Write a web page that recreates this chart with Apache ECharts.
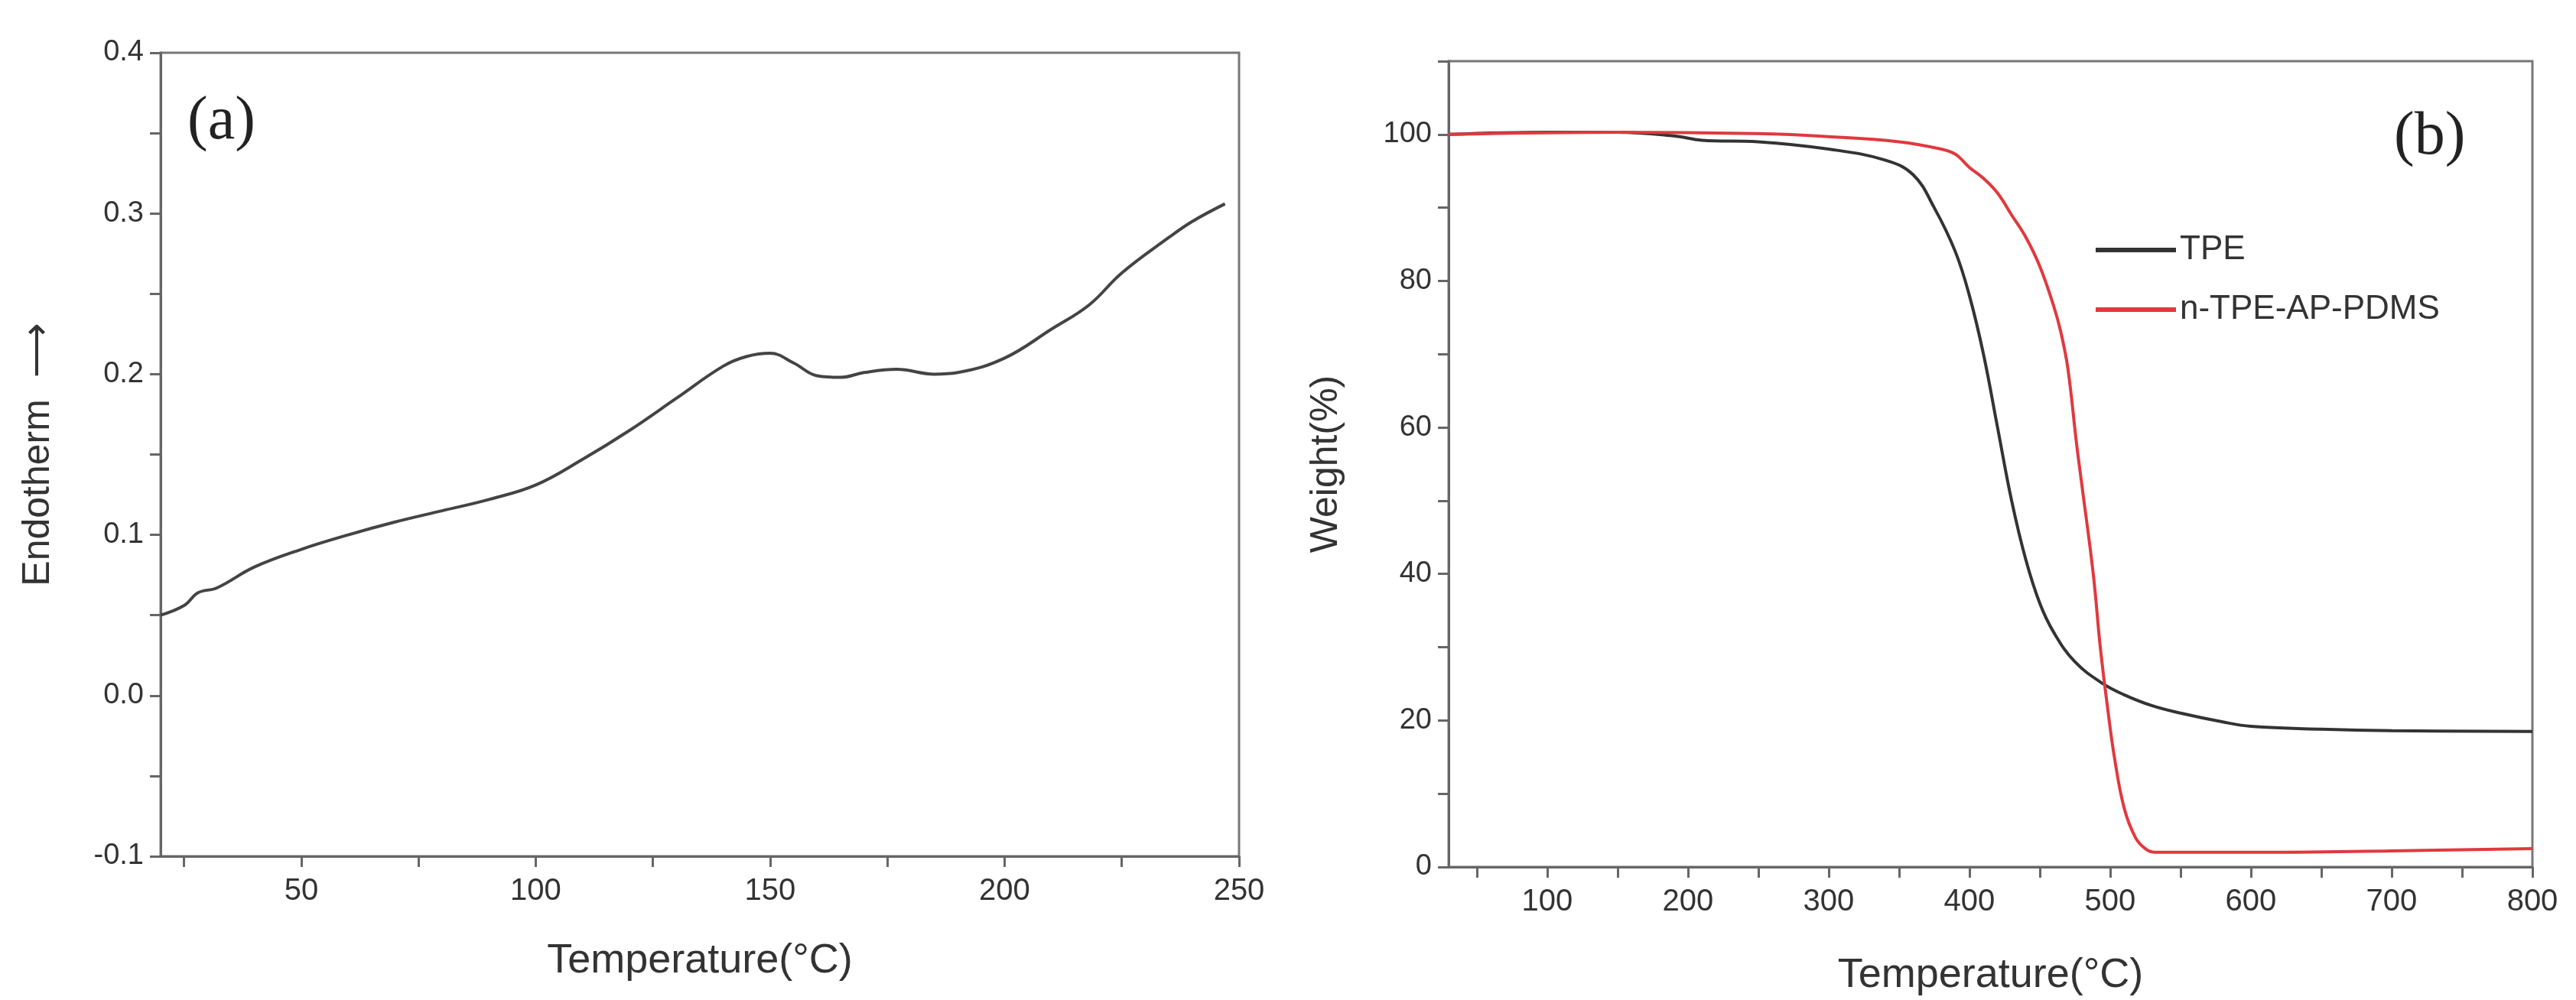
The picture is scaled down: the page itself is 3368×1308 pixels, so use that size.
<!doctype html>
<html>
<head>
<meta charset="utf-8">
<title>DSC / TGA</title>
<script src="https://cdn.jsdelivr.net/npm/echarts@6/dist/echarts.min.js"></script>
<style>html,body{margin:0;background:#fff}#Chart{width:3368px;height:1308px}</style>
</head>
<body>
<div id="Chart"></div>
<script>
    // (a) DSC curve
    var dscTemp = [20, 25, 28, 32, 40, 50, 60, 70, 80, 90, 100, 110, 120, 130, 140, 145, 150, 155, 160, 165, 170, 177, 185, 190, 200, 210, 218, 225, 235, 240, 247];
    var dscVal = [0.050, 0.056, 0.064, 0.067, 0.080, 0.091, 0.100, 0.108, 0.115, 0.122, 0.131, 0.147, 0.165, 0.185, 0.205, 0.211, 0.213, 0.207, 0.199, 0.198, 0.201, 0.203, 0.200, 0.201, 0.210, 0.228, 0.243, 0.263, 0.285, 0.295, 0.306];
    // (b) TGA curves
    var tpeTemp = [30, 100, 150, 190, 210, 250, 300, 340, 360, 375, 390, 400, 410, 420, 430, 440, 450, 460, 475, 495, 510, 530, 550, 580, 600, 650, 700, 800];
    var tpeVal = [100, 100.3, 100.3, 99.8, 99.2, 99, 98, 96.5, 94.5, 90, 84, 78, 70, 60, 50, 42, 36, 32, 28, 25, 23.5, 22, 21, 19.8, 19.2, 18.8, 18.6, 18.5];
    var pdmsTemp = [30, 150, 250, 300, 350, 380, 390, 400, 410, 420, 430, 440, 450, 460, 465, 470, 476, 480, 488, 493, 498, 503, 510, 518, 525, 532, 560, 600, 700, 800];
    var pdmsVal = [100, 100.3, 100.1, 99.7, 99, 98, 97.3, 95.5, 94, 92, 89, 86, 82, 76.5, 73, 68, 58, 52, 40, 30, 22, 15, 8, 4, 2.5, 2, 2, 2, 2.2, 2.5];
    var dscXLabels = [50, 100, 150, 200, 250];
    var dscXTicks = [25, 50, 75, 100, 125, 150, 175, 200, 225, 250];
    var tgaXLabels = [100, 200, 300, 400, 500, 600, 700, 800];
    var tgaXTicks = [50, 100, 150, 200, 250, 300, 350, 400, 450, 500, 550, 600, 650, 700, 750, 800];

    function pairs(xs, ys) {
        var out = [];
        for (var i = 0; i < xs.length; i++) out.push([xs[i], ys[i]]);
        return out;
    }

    var txt = '#333';
    var axisLine = { show: true, onZero: false, lineStyle: { color: '#666', width: 3 } };
    var font = 'Liberation Sans, Arial, sans-serif';

    var myChart = echarts.init(document.getElementById('Chart'));
    var option = {
        animation: false,
        textStyle: { fontFamily: font },
        grid: [
            { left: 210, top: 69, width: 1410, height: 1051, show: true, borderColor: '#777', borderWidth: 3 },
            { left: 1894, top: 80, width: 1417, height: 1056, show: true, borderColor: '#777', borderWidth: 3 }
        ],
        xAxis: [
            {
                gridIndex: 0, type: 'value', min: 20, max: 250,
                name: 'Temperature(°C)', nameLocation: 'middle', nameGap: 110,
                nameTextStyle: { color: txt, fontSize: 54 },
                axisLine: axisLine, splitLine: { show: false },
                axisTick: { show: true, length: 14, lineStyle: { color: '#666', width: 3 }, customValues: dscXTicks },
                axisLabel: { color: txt, fontSize: 40, margin: 26, customValues: dscXLabels }
            },
            {
                gridIndex: 1, type: 'value', min: 30, max: 800,
                name: 'Temperature(°C)', nameLocation: 'middle', nameGap: 115,
                nameTextStyle: { color: txt, fontSize: 54 },
                axisLine: axisLine, splitLine: { show: false },
                axisTick: { show: true, length: 14, lineStyle: { color: '#666', width: 3 }, customValues: tgaXTicks },
                axisLabel: { color: txt, fontSize: 40, margin: 26, customValues: tgaXLabels }
            }
        ],
        yAxis: [
            {
                gridIndex: 0, type: 'value', min: -0.1, max: 0.4, interval: 0.05,
                name: 'Endotherm  ⟶', nameLocation: 'middle', nameGap: 135, nameRotate: 90,
                nameTextStyle: { color: txt, fontSize: 50 },
                axisLine: axisLine, splitLine: { show: false },
                axisTick: { show: true, length: 14, lineStyle: { color: '#666', width: 3 } },
                axisLabel: {
                    color: txt, fontSize: 38, margin: 22,
                    formatter: function (v) {
                        var r = Math.round(v * 100);
                        return r % 10 === 0 ? (r / 100).toFixed(1) : '';
                    }
                }
            },
            {
                gridIndex: 1, type: 'value', min: 0, max: 110, interval: 10,
                name: 'Weight(%)', nameLocation: 'middle', nameGap: 135, nameRotate: 90,
                nameTextStyle: { color: txt, fontSize: 50 },
                axisLine: axisLine, splitLine: { show: false },
                axisTick: { show: true, length: 14, lineStyle: { color: '#666', width: 3 } },
                axisLabel: {
                    color: txt, fontSize: 38, margin: 22,
                    formatter: function (v) { return (v % 20 === 0 && v <= 100) ? v : ''; }
                }
            }
        ],
        legend: {
            left: 2735, top: 300, orient: 'vertical', itemWidth: 105, itemHeight: 6, itemGap: 34,
            textStyle: { color: txt, fontSize: 44 }, icon: 'rect',
            data: ['TPE', 'n-TPE-AP-PDMS']
        },
        graphic: [
            { type: 'text', left: 245, top: 120, style: { text: '(a)', font: '80px "Liberation Serif", serif', fill: '#222' } },
            { type: 'text', left: 3130, top: 140, style: { text: '(b)', font: '80px "Liberation Serif", serif', fill: '#222' } }
        ],
        series: [
            {
                name: 'DSC', type: 'line', xAxisIndex: 0, yAxisIndex: 0, smooth: 0.4, symbol: 'none',
                lineStyle: { color: '#444', width: 4 }, data: pairs(dscTemp, dscVal)
            },
            {
                name: 'TPE', type: 'line', xAxisIndex: 1, yAxisIndex: 1, smooth: 0.4, symbol: 'none',
                itemStyle: { color: '#333' }, lineStyle: { color: '#333', width: 4 }, data: pairs(tpeTemp, tpeVal)
            },
            {
                name: 'n-TPE-AP-PDMS', type: 'line', xAxisIndex: 1, yAxisIndex: 1, smooth: 0.4, symbol: 'none',
                itemStyle: { color: '#e0393e' }, lineStyle: { color: '#e0393e', width: 4 }, data: pairs(pdmsTemp, pdmsVal)
            }
        ]
    };
    myChart.setOption(option);
</script>
</body>
</html>
